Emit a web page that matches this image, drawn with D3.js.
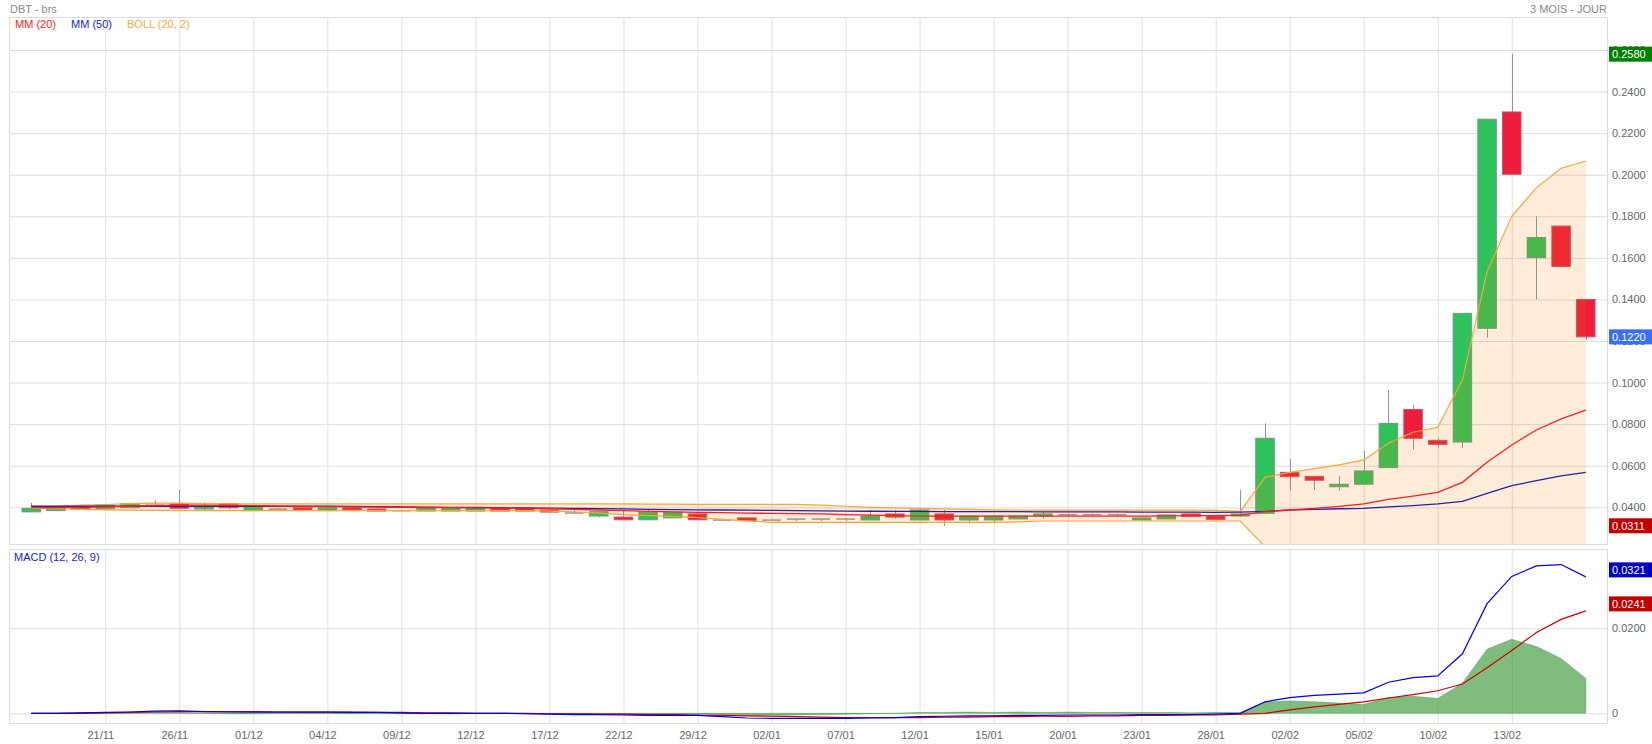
<!DOCTYPE html>
<html>
<head>
<meta charset="utf-8">
<script src="https://cdn.jsdelivr.net/npm/d3@7"></script>
<style>
  body { margin: 0; background: #fff; }
  svg text { font-family: "Liberation Sans", Arial, sans-serif; font-size: 11px; }
</style>
</head>
<body>
<svg id="chart" width="1652" height="744"></svg>
<script>
// trading days shown on the chart
const dates = ["18/11","19/11","20/11","21/11","24/11","25/11","26/11","27/11","28/11","01/12",
  "02/12","03/12","04/12","05/12","08/12","09/12","10/12","11/12","12/12","15/12",
  "16/12","17/12","18/12","19/12","22/12","23/12","26/12","29/12","30/12","31/12",
  "02/01","05/01","06/01","07/01","08/01","09/01","12/01","13/01","14/01","15/01",
  "16/01","19/01","20/01","21/01","22/01","23/01","26/01","27/01","28/01","29/01",
  "30/01","02/02","03/02","04/02","05/02","06/02","09/02","10/02","11/02","12/02",
  "13/02","16/02","17/02","18/02"];

const open  = [.0378,.0384,.0403,.0392,.0398,.0414,.0417,.0392,.0417,.0384,
  .0395,.0398,.0384,.0398,.0392,.0387,.0382,.0382,.0382,.0395,
  .0395,.0387,.0376,.0358,.0353,.0340,.0349,.0368,.0342,.0349,
  .0342,.0347,.0347,.0347,.0339,.0368,.0339,.0368,.0339,.0339,
  .0344,.0358,.0368,.0368,.0368,.0339,.0344,.0368,.0358,.0358,
  .0371,.0568,.0549,.0499,.0511,.0591,.0871,.0722,.0714,.1261,
  .2302,.1601,.1753,.1400];
const high  = [.0422,.0400,.0409,.0411,.0417,.0435,.0483,.0424,.0417,.0409,
  .0398,.0398,.0398,.0398,.0392,.0390,.0398,.0398,.0398,.0395,
  .0395,.0387,.0387,.0379,.0382,.0387,.0377,.0374,.0344,.0349,
  .0344,.0347,.0347,.0347,.0387,.0387,.0392,.0387,.0358,.0358,
  .0358,.0377,.0370,.0370,.0370,.0349,.0363,.0368,.0358,.0483,
  .0804,.0632,.0549,.0549,.0671,.0964,.0892,.0732,.1333,.2267,
  .2580,.1800,.1753,.1400];
const low   = [.0378,.0384,.0392,.0392,.0398,.0410,.0395,.0381,.0390,.0384,
  .0388,.0387,.0384,.0387,.0382,.0385,.0382,.0382,.0382,.0382,
  .0382,.0377,.0369,.0352,.0340,.0340,.0349,.0340,.0339,.0336,
  .0340,.0334,.0334,.0334,.0339,.0345,.0339,.0311,.0323,.0323,
  .0344,.0344,.0353,.0353,.0353,.0339,.0344,.0355,.0339,.0355,
  .0371,.0480,.0483,.0480,.0511,.0591,.0677,.0687,.0687,.1216,
  .2002,.1400,.1553,.1205];
const close = [.0395,.0398,.0392,.0411,.0417,.0414,.0395,.0403,.0398,.0403,
  .0395,.0387,.0398,.0387,.0382,.0387,.0398,.0398,.0398,.0382,
  .0382,.0377,.0376,.0379,.0340,.0377,.0377,.0340,.0342,.0336,
  .0342,.0347,.0347,.0347,.0358,.0353,.0387,.0339,.0358,.0358,
  .0358,.0368,.0368,.0368,.0368,.0349,.0363,.0355,.0342,.0368,
  .0732,.0547,.0530,.0511,.0575,.0804,.0732,.0703,.1333,.2267,
  .2002,.1698,.1558,.1220];

// indicators
const mm20 = [.0398,.0399,.0400,.0402,.0405,.0408,.0410,.0410,.0409,.0408,
  .0406,.0404,.0403,.0402,.0401,.0400,.0399,.0398,.0397,.0396,
  .0395,.0393,.0390,.0387,.0384,.0380,.0378,.0376,.0374,.0372,
  .0371,.0370,.0368,.0365,.0362,.0360,.0358,.0358,.0358,.0358,
  .0358,.0358,.0358,.0358,.0358,.0358,.0359,.0360,.0360,.0362,
  .0379,.0387,.0395,.0404,.0416,.0438,.0454,.0472,.0520,.0617,
  .0700,.0772,.0825,.0867];
const mm50 = [.0405,.0405,.0405,.0405,.0405,.0405,.0405,.0405,.0405,.0405,
  .0405,.0405,.0405,.0404,.0403,.0402,.0401,.0400,.0399,.0398,
  .0397,.0396,.0395,.0394,.0392,.0390,.0389,.0388,.0387,.0386,
  .0385,.0384,.0383,.0382,.0381,.0380,.0380,.0379,.0379,.0379,
  .0379,.0378,.0378,.0378,.0378,.0377,.0377,.0377,.0376,.0377,
  .0380,.0387,.0390,.0393,.0395,.0402,.0408,.0416,.0429,.0467,
  .0504,.0528,.0551,.0568];
const bollUp = [.0400,.0405,.0410,.0413,.0418,.0420,.0420,.0418,.0416,.0416,
  .0416,.0416,.0416,.0416,.0416,.0416,.0416,.0416,.0416,.0416,
  .0416,.0416,.0416,.0416,.0416,.0415,.0415,.0414,.0414,.0414,
  .0414,.0414,.0410,.0405,.0400,.0397,.0395,.0392,.0390,.0388,
  .0387,.0386,.0386,.0386,.0386,.0386,.0386,.0386,.0385,.0380,
  .0544,.0568,.0586,.0604,.0628,.0708,.0761,.0785,.1013,.1534,
  .1800,.1938,.2031,.2066];
const bollLow = [.0395,.0393,.0390,.0388,.0386,.0385,.0384,.0384,.0384,.0384,
  .0384,.0384,.0384,.0384,.0384,.0384,.0384,.0384,.0384,.0384,
  .0384,.0382,.0378,.0372,.0365,.0360,.0356,.0350,.0342,.0335,
  .0327,.0327,.0327,.0327,.0327,.0327,.0327,.0327,.0327,.0327,
  .0330,.0334,.0334,.0334,.0334,.0334,.0334,.0334,.0334,.0334,
  .0210,.0180,.0170,.0160,.0150,.0110,.0090,.0080,.0020,-.0200,
  -.0300,-.0350,-.0370,-.0340];

const macd = [0,0,.0001,.0002,.0003,.0005,.0006,.0004,.0003,.0003,
  .0003,.0003,.0003,.0002,.0002,.0001,0,0,0,0,
  -.0001,-.0002,-.0003,-.0003,-.0004,-.0005,-.0005,-.0005,-.0008,-.0011,
  -.0012,-.0012,-.0012,-.0012,-.0011,-.0010,-.0008,-.0007,-.0006,-.0006,
  -.0005,-.0005,-.0004,-.0004,-.0004,-.0003,-.0003,-.0003,-.0002,0,
  .0027,.0037,.0042,.0045,.0048,.0073,.0084,.0088,.0140,.0258,
  .0322,.0347,.0350,.0321];
const signal = [0,0,0,.0001,.0002,.0003,.0004,.0004,.0004,.0004,
  .0003,.0003,.0003,.0003,.0002,.0002,.0001,.0001,0,0,
  0,-.0001,-.0001,-.0002,-.0002,-.0003,-.0003,-.0004,-.0005,-.0006,
  -.0007,-.0008,-.0009,-.0010,-.0010,-.0010,-.0010,-.0009,-.0009,-.0008,
  -.0008,-.0007,-.0007,-.0006,-.0006,-.0005,-.0005,-.0004,-.0004,-.0002,
  .0000,.0008,.0015,.0021,.0027,.0036,.0044,.0053,.0069,.0107,
  .0148,.0190,.0221,.0241];
const hist = [0,0,.0001,.0001,.0001,.0002,.0002,0,-.0001,-.0001,
  0,0,0,-.0001,0,-.0001,-.0001,-.0001,0,0,
  -.0001,-.0001,-.0002,-.0001,-.0002,-.0002,-.0002,-.0001,-.0003,-.0005,
  -.0005,-.0004,-.0003,-.0002,-.0001,0,.0002,.0002,.0003,.0002,
  .0003,.0002,.0003,.0002,.0002,.0002,.0002,.0001,.0002,.0002,
  .0027,.0029,.0027,.0024,.0021,.0037,.0040,.0035,.0071,.0151,
  .0174,.0157,.0129,.0082];

const priceTicks = [0.04, 0.06, 0.08, 0.10, 0.12, 0.14, 0.16, 0.18, 0.20, 0.22, 0.24, 0.26];
const macdTicks = [0, 0.02];
const dateTicks = d3.range(3, 61, 3);

// labels on the right edge
const priceBoxes = [
  {v: 0.2580, c: "#008000"},
  {v: 0.1220, c: "#3a6ff0"},
  {v: 0.0311, c: "#c00000"}
];
const macdBoxes = [
  {v: 0.0321, c: "#0000c0", shift: -7},
  {v: 0.0241, c: "#c00000", shift: -7}
];

const svg = d3.select("#chart");
const L = 9, R = 1607;
const mainTop = 17, mainBot = 544, macdTop = 549, macdBot = 723;

const x = d3.scaleLinear().domain([0, 63]).range([31.25, 1585.8]);
const y = d3.scaleLinear().domain([0.04, 0.26]).range([507.3, 50]);
const ym = d3.scaleLinear().domain([0, 0.02]).range([713.3, 628.3]);

const defs = svg.append("defs");
defs.append("clipPath").attr("id", "clipMain").append("rect")
  .attr("x", L).attr("y", mainTop).attr("width", R - L).attr("height", mainBot - mainTop);
defs.append("clipPath").attr("id", "clipMacd").append("rect")
  .attr("x", L).attr("y", macdTop).attr("width", R - L).attr("height", macdBot - macdTop);

// header
svg.append("text").attr("x", 10).attr("y", 13).attr("fill", "#888").text("DBT - brs");
svg.append("text").attr("x", 1607).attr("y", 13).attr("fill", "#888")
  .attr("text-anchor", "end").text("3 MOIS - JOUR");

// grids
function vgrid(top, bot) {
  svg.append("g").attr("transform", `translate(0,${bot})`)
    .call(d3.axisBottom(x).tickValues(dateTicks).tickSize(-(bot - top)).tickFormat(""))
    .call(g => g.select(".domain").remove())
    .call(g => g.selectAll("line").attr("stroke", "#dedede"));
}
vgrid(mainTop, mainBot);
vgrid(macdTop, macdBot);

svg.append("g").attr("transform", `translate(${L},0)`)
  .call(d3.axisRight(y).tickValues(priceTicks).tickSize(R - L).tickFormat(""))
  .call(g => g.select(".domain").remove())
  .call(g => g.selectAll("line").attr("stroke", "#dedede"));
svg.append("g").attr("transform", `translate(${L},0)`)
  .call(d3.axisRight(ym).tickValues(macdTicks).tickSize(R - L).tickFormat(""))
  .call(g => g.select(".domain").remove())
  .call(g => g.selectAll("line").attr("stroke", "#dedede"));

// panel frames
svg.append("rect").attr("x", L + 0.5).attr("y", mainTop + 0.5)
  .attr("width", R - L).attr("height", mainBot - mainTop)
  .attr("fill", "none").attr("stroke", "#dcdcdc");
svg.append("rect").attr("x", L + 0.5).attr("y", macdTop + 0.5)
  .attr("width", R - L).attr("height", macdBot - macdTop)
  .attr("fill", "none").attr("stroke", "#dcdcdc");

// candles
const main = svg.append("g").attr("clip-path", "url(#clipMain)");
const idx = d3.range(dates.length);
const bw = 18.5;

main.selectAll(".wick").data(idx).enter().append("line")
  .attr("x1", i => Math.round(x(i)) + 0.5).attr("x2", i => Math.round(x(i)) + 0.5)
  .attr("y1", i => y(high[i])).attr("y2", i => y(low[i]))
  .attr("stroke", i => open[i] === close[i] ? "#999" : "#8096b0").attr("stroke-width", 1);

main.selectAll(".body").data(idx).enter().append("rect")
  .attr("x", i => x(i) - bw / 2)
  .attr("width", bw)
  .attr("y", i => y(Math.max(open[i], close[i])))
  .attr("height", i => Math.max(1.5, Math.abs(y(open[i]) - y(close[i]))))
  .attr("fill", i => close[i] > open[i] ? "#2dc25a" : close[i] < open[i] ? "#f01c3c" : "#9a9a9a")
  .attr("stroke", i => close[i] > open[i] ? "#6f9a7c" : close[i] < open[i] ? "#c0586c" : "none")
  .attr("stroke-width", 1);

// bollinger band
const band = d3.area().x((d, i) => x(i)).y0((d, i) => y(bollLow[i])).y1(d => y(d));
main.append("path").datum(bollUp).attr("d", band)
  .attr("fill", "rgb(235,128,0)").attr("fill-opacity", 0.15);

const line = d3.line().x((d, i) => x(i)).y(d => y(d));
main.append("path").datum(bollUp).attr("d", line).attr("fill", "none")
  .attr("stroke", "#f7a63a").attr("stroke-width", 1.2);
main.append("path").datum(bollLow).attr("d", line).attr("fill", "none")
  .attr("stroke", "#f7a63a").attr("stroke-width", 1.2);
main.append("path").datum(mm50).attr("d", line).attr("fill", "none")
  .attr("stroke", "#2a1fa6").attr("stroke-width", 1.3);
main.append("path").datum(mm20).attr("d", line).attr("fill", "none")
  .attr("stroke", "#ff2020").attr("stroke-width", 1.3);

// legend
const leg = [["MM (20)", "#ff1a1a", 15], ["MM (50)", "#2222c8", 71], ["BOLL (20, 2)", "#f5a742", 127]];
svg.selectAll(".leg").data(leg).enter().append("text")
  .attr("x", d => d[2]).attr("y", 28).attr("fill", d => d[1]).text(d => d[0]);

// MACD panel
const mp = svg.append("g").attr("clip-path", "url(#clipMacd)");
const histArea = d3.area().x((d, i) => x(i)).y0(ym(0)).y1(d => ym(d));
mp.append("path").datum(hist).attr("d", histArea)
  .attr("fill", "#3a9a3a").attr("fill-opacity", 0.65)
  .attr("stroke", "#3a8a3a").attr("stroke-opacity", 0.5).attr("stroke-width", 0.8);
const mline = d3.line().x((d, i) => x(i)).y(d => ym(d));
mp.append("path").datum(signal).attr("d", mline).attr("fill", "none")
  .attr("stroke", "#d00000").attr("stroke-width", 1.2);
mp.append("path").datum(macd).attr("d", mline).attr("fill", "none")
  .attr("stroke", "#0000dd").attr("stroke-width", 1.2);
svg.append("text").attr("x", 14).attr("y", 561).attr("fill", "#1a1acc").text("MACD (12, 26, 9)");

// axes labels
svg.append("g").attr("transform", `translate(${R + 2},0)`)
  .call(d3.axisRight(y).tickValues(priceTicks).tickSize(0).tickPadding(3).tickFormat(d3.format(".4f")))
  .call(g => g.select(".domain").remove())
  .call(g => g.selectAll("text").attr("fill", "#666").style("font-size", "11px"));
svg.append("g").attr("transform", `translate(${R + 2},0)`)
  .call(d3.axisRight(ym).tickValues(macdTicks).tickSize(0).tickPadding(3)
    .tickFormat(d => d === 0 ? "0" : d3.format(".4f")(d)))
  .call(g => g.select(".domain").remove())
  .call(g => g.selectAll("text").attr("fill", "#666").style("font-size", "11px"));
svg.append("g").attr("transform", `translate(0,${macdBot + 5})`)
  .call(d3.axisBottom(x).tickValues(dateTicks).tickSize(0).tickPadding(3).tickFormat(i => dates[i]))
  .call(g => g.select(".domain").remove())
  .call(g => g.selectAll("text").attr("fill", "#666").attr("dx", -5).style("font-size", "11px"));

// value boxes
function boxes(list, scale) {
  const g = svg.selectAll(null).data(list).enter().append("g")
    .attr("transform", d => `translate(${R + 2},${scale(d.v) + (d.shift || 0)})`);
  g.append("rect").attr("x", 0).attr("y", -7.5).attr("width", 45).attr("height", 15)
    .attr("fill", d => d.c);
  g.append("text").attr("x", 3).attr("y", 4).attr("fill", "#fff").text(d => d3.format(".4f")(d.v));
}
boxes(priceBoxes, y);
boxes(macdBoxes, ym);
</script>
</body>
</html>
